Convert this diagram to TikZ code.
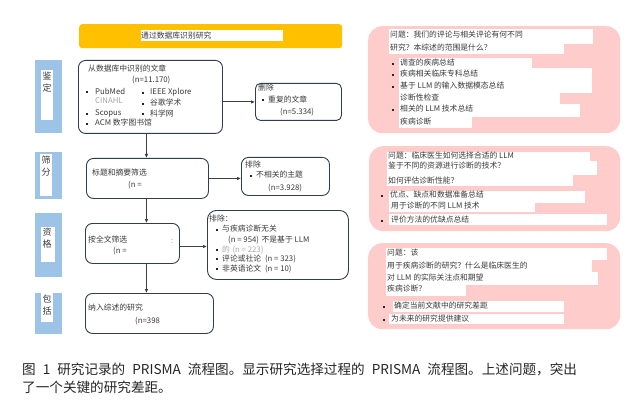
\documentclass[tikz,border=0pt]{standalone}
\usepackage{fontspec}
\setmainfont{Noto Sans CJK SC}
\usetikzlibrary{arrows.meta}
\definecolor{yel}{HTML}{FFC000}
\definecolor{stageblue}{HTML}{9DC3E6}
\definecolor{pinkbg}{HTML}{FFCCCC}
\definecolor{boxline}{HTML}{2F3D4C}
\definecolor{txt}{HTML}{3A3A3A}
\definecolor{graytxt}{HTML}{A6A6A6}
\definecolor{arrowc}{HTML}{404040}
\newcommand\blt[2]{\fill[black!85] ({#1-1},{#2-1}) rectangle ({#1+1},{#2+1});}
\newcommand\strip[4]{\fill[white] (#1,#2) rectangle (#3,#4);}
\newcommand\wsp{\hspace{7pt}}
\begin{document}
\begin{tikzpicture}[x=1pt,y=-1pt,
  flowbox/.style={draw=boxline, line width=0.9pt, rounded corners=7pt, anchor=north west, inner sep=0pt},
  pinkbox/.style={fill=pinkbg, rounded corners=14pt, anchor=north west, inner sep=0pt},
  tx/.style={anchor=west, inner sep=0pt, text=txt, font=\fontsize{7.8}{9}\selectfont},
  gtx/.style={tx, text=graytxt},
  stg/.style={anchor=center, inner sep=0pt, text=txt, font=\fontsize{9}{10}\selectfont},
  captxt/.style={anchor=west, inner sep=0pt, text=black!85, font=\fontsize{13.6}{15}\selectfont},
  arr/.style={draw=arrowc, line width=1pt, -{Latex[length=4pt,width=3.6pt]}}]
\useasboundingbox (0,0) rectangle (631,406);
\fill[white] (0,0) rectangle (631,406);

% banner
\node[fill=yel, rounded corners=3pt, anchor=north west, minimum width=263pt, minimum height=24pt, inner sep=0pt] (banner) at (79,24) {};
\strip{141}{30}{283}{41}
\node[tx] (bannertext) at (141,35.5) {通过数据库识别研究};

% stage labels
\fill[stageblue] (35,60) rectangle (62,133);
\strip{41}{70}{53}{120}
\node[stg] (s1a) at (47,76) {鉴};
\node[stg] (s1b) at (47,88) {定};
\fill[stageblue] (35,152) rectangle (62,199);
\strip{40}{154}{52}{196}
\node[stg] (s2a) at (46,160) {筛};
\node[stg] (s2b) at (46,172) {分};
\fill[stageblue] (35,213) rectangle (62,277);
\strip{41}{227}{55}{262}
\node[stg] (s3a) at (47,232) {资};
\node[stg] (s3b) at (47,244) {格};
\fill[stageblue] (35,293) rectangle (62,334);
\strip{41}{293}{53}{322}
\node[stg] (s4a) at (47,299) {包};
\node[stg] (s4b) at (47,311) {括};

% flow boxes
\node[flowbox, minimum width=144pt, minimum height=73pt] (A) at (78,60) {};
\node[flowbox, rounded corners=5pt, minimum width=86pt, minimum height=37pt] (B) at (255,83) {};
\node[flowbox, minimum width=122pt, minimum height=40pt] (C) at (86,158) {};
\node[flowbox, minimum width=88pt, minimum height=38pt] (D) at (241,157) {};
\node[flowbox, minimum width=94pt, minimum height=40pt] (E) at (85,223) {};
\node[flowbox, rounded corners=9pt, minimum width=141pt, minimum height=69pt] (F) at (207,210) {};
\node[flowbox, minimum width=128pt, minimum height=40pt] (G) at (85,293) {};

% box A text
\node[tx] (a1) at (88,69) {从数据库中识别的文章};
\node[tx] (a2) at (132,80) {(n=11.170)};
\blt{87}{92}\node[tx] (a3) at (95,91) {PubMed};
\node[gtx] (a4) at (95,101) {CINAHL};
\blt{87}{114}\node[tx] (a5) at (95,113) {Scopus};
\blt{87}{124}\node[tx] (a6) at (95,123) {ACM 数字图书馆};
\blt{143}{93}\node[tx] (a7) at (150,92) {IEEE Xplore};
\blt{143}{104}\node[tx] (a8) at (150,103) {谷歌学术};
\blt{143}{114}\node[tx] (a9) at (150,113) {科学网};

% box B text
\node[tx] (b1) at (258,88) {删除};
\blt{263}{100}\node[tx] (b2) at (268,99.5) {重复的文章};
\node[tx] (b3) at (280,112) {(n=5.334)};

% box C text
\node[tx] (c1) at (92,173) {标题和摘要筛选};
\node[tx] (c2) at (128,185) {(n =};

% box D text
\node[tx] (d1) at (245,165) {排除};
\blt{251}{176}\node[tx] (d2) at (256,175) {不相关的主题};
\node[tx] (d3) at (268,188) {(n=3.928)};

% box E text
\node[tx] (e1) at (88,239) {按全文筛选};
\node[tx] (e2) at (113,251) {(n =};
\node[gtx] (e3) at (171,241) {:};

% box F text
\node[tx] (f1) at (209,219) {排除：};
\blt{217}{230}\node[tx] (f2) at (222,229) {与疾病诊断无关};
\node[tx] (f3) at (228,240) {(n = 954)\,\,不是基于 LLM};
\blt{217}{250}\node[gtx] (f4) at (222,249.5) {的\,\,(n = 223)};
\blt{217}{259}\node[tx] (f5) at (222,258.5) {评论或社论\,\,\,(n = 323)};
\blt{217}{269}\node[tx] (f6) at (222,268.5) {非英语论文\,\,\,(n = 10)};

% box G text
\node[tx] (g1) at (88,308) {纳入综述的研究};
\node[tx] (g2) at (135,321) {(n=398};

% connectors
\draw[arr] ([xshift=-4pt]A.south) -- ([xshift=-4pt]A.south |- C.north);
\draw[arr] (A.east |- B.west) -- (B.west);
\draw[arr] (C.east) -- (C.east -| D.west);
\draw[arr] ([xshift=-1pt]C.south) -- ([xshift=-1pt]C.south |- E.north);
\draw[arr] ([yshift=-3pt]E.east) -- ([yshift=-3pt]E.east -| F.west);
\draw[arr] ([xshift=-1pt]C.south |- E.south) -- ([xshift=-1pt]C.south |- G.north);

% pink box 1
\node[pinkbox, minimum width=252pt, minimum height=107pt] (P1) at (368,26) {};
\strip{389}{29}{593}{44}
\strip{389}{44}{564}{54}
\strip{399}{58}{532}{68.5}
\strip{399}{68.5}{592}{80}
\strip{399}{80}{592}{93}
\strip{399}{93}{560}{104}
\strip{399}{104}{580}{117}
\strip{399}{117}{472}{128}
\node[tx] (p1a) at (390,35) {问题：我们的评论与相关评论有何不同};
\node[tx] (p1b) at (390,48) {研究？本综述的范围是什么？};
\blt{393}{64}\node[tx] (p1c) at (400,63) {调查的疾病总结};
\blt{393}{75}\node[tx] (p1d) at (400,74) {疾病相关临床专科总结};
\blt{393}{87}\node[tx] (p1e) at (400,86) {基于 LLM 的输入数据模态总结};
\node[tx] (p1f) at (400,98) {诊断性检查};
\blt{393}{110}\node[tx] (p1g) at (400,109) {相关的 LLM 技术总结};
\node[tx] (p1h) at (400,122) {疾病诊断};

% pink box 2
\node[pinkbox, minimum width=251pt, minimum height=85pt] (P2) at (369,146) {};
\strip{387}{152}{590}{161}
\strip{387}{161}{597}{175}
\strip{387}{175}{573}{186}
\strip{389}{191}{585}{203}
\strip{389}{203}{535}{212}
\strip{389}{214}{607}{225}
\node[tx] (p2a) at (388,155.5) {问题：临床医生如何选择合适的 LLM};
\node[tx] (p2b) at (388,166) {鉴于不同的资源进行诊断的技术？};
\node[tx] (p2c) at (388,181) {如何评估诊断性能？};
\blt{382}{196}\node[tx] (p2d) at (390,195) {优点、缺点和数据准备总结};
\node[tx] (p2e) at (391,206) {用于诊断的不同 LLM 技术};
\blt{382}{220.5}\node[tx] (p2f) at (391,220) {评价方法的优缺点总结};

% pink box 3
\node[pinkbox, minimum width=252pt, minimum height=86pt] (P3) at (368,243) {};
\strip{386}{248}{607}{260}
\strip{386}{260}{592}{272}
\strip{386}{272}{598}{285}
\strip{386}{285}{466}{296}
\strip{393}{301}{564}{312}
\strip{389}{314}{564}{324}
\node[tx] (p3a) at (387,253) {问题：该};
\node[tx] (p3b) at (387,266) {用于疾病诊断的研究？什么是临床医生的};
\node[tx] (p3c) at (387,278) {对 LLM 的实际关注点和期望};
\node[tx] (p3d) at (387,289) {疾病诊断？};
\blt{384}{306.5}\node[tx] (p3e) at (394,306) {确定当前文献中的研究差距};
\blt{384}{319.5}\node[tx] (p3f) at (391,319) {为未来的研究提供建议};

% caption
\node[captxt] (cap1) at (22,369) {图\wsp 1\wsp 研究记录的\wsp PRISMA\wsp 流程图。显示研究选择过程的\wsp PRISMA\wsp 流程图。上述问题，突出};
\node[captxt] (cap2) at (22,387) {了一个关键的研究差距。};
\end{tikzpicture}
\end{document}
